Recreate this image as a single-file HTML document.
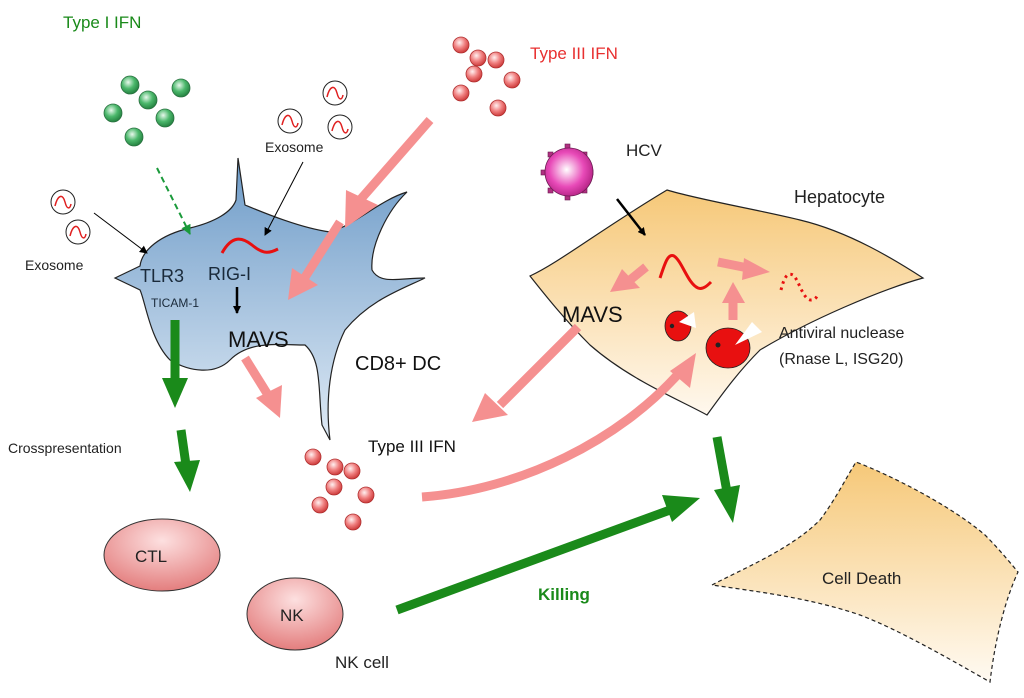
<!DOCTYPE html>
<html><head><meta charset="utf-8"><style>
html,body{margin:0;padding:0;background:#fff}
svg{display:block}
text{font-family:"Liberation Sans","DejaVu Sans",sans-serif}
</style></head><body>
<svg width="1024" height="698" viewBox="0 0 1024 698" xmlns="http://www.w3.org/2000/svg">
<defs>
<radialGradient id="gg" cx="0.4" cy="0.35" r="0.7"><stop offset="0" stop-color="#e8f8ec"/><stop offset="0.5" stop-color="#4cb86c"/><stop offset="1" stop-color="#1f7a3a"/></radialGradient>
<radialGradient id="rg" cx="0.4" cy="0.35" r="0.7"><stop offset="0" stop-color="#fff0f0"/><stop offset="0.5" stop-color="#f08080"/><stop offset="1" stop-color="#c83030"/></radialGradient>
<radialGradient id="pg" cx="0.45" cy="0.45" r="0.6"><stop offset="0" stop-color="#fff"/><stop offset="0.6" stop-color="#e84ab8"/><stop offset="1" stop-color="#b02080"/></radialGradient>
<linearGradient id="dc" x1="0" y1="0" x2="0" y2="1"><stop offset="0" stop-color="#6d9bc8"/><stop offset="1" stop-color="#dfeaf5"/></linearGradient>
<linearGradient id="hep" x1="0" y1="0" x2="0" y2="1"><stop offset="0" stop-color="#f6c878"/><stop offset="1" stop-color="#fff8ee"/></linearGradient>
<linearGradient id="cd" x1="0" y1="0" x2="0" y2="1"><stop offset="0" stop-color="#f6c878"/><stop offset="1" stop-color="#fffaf2"/></linearGradient>
<radialGradient id="ov" cx="0.5" cy="0.3" r="0.8"><stop offset="0" stop-color="#fde0e0"/><stop offset="1" stop-color="#e07070"/></radialGradient>
<marker id="ab" markerWidth="8" markerHeight="8" refX="7" refY="4" orient="auto" markerUnits="userSpaceOnUse"><path d="M0,0 L8,4 L0,8z" fill="#000"/></marker>
<marker id="agd" markerWidth="10" markerHeight="10" refX="9" refY="5" orient="auto" markerUnits="userSpaceOnUse"><path d="M0,0 L10,5 L0,10z" fill="#1a9a3a"/></marker>
</defs>

<path d="M115,278 L140,266 C142,250 160,235 190,228 C215,222 232,212 236,200 L238,158 L245,205 C262,212 300,228 330,232 C355,225 380,200 407,192 C388,210 370,245 372,270 C380,285 400,278 425,278 C400,290 370,300 345,330 C330,360 325,400 330,440 L322,425 C318,390 322,360 305,345 C280,345 250,340 230,360 C215,375 190,372 170,360 C150,340 145,300 140,290 Z" fill="url(#dc)" stroke="#222" stroke-width="1.2"/>

<path d="M530,276 C560,262 600,230 667,190 C700,200 760,210 800,220 C850,232 895,260 923,278 C880,290 810,320 760,350 C740,370 725,390 707,415 C680,400 630,380 590,345 C565,320 545,295 530,276 Z" fill="url(#hep)" stroke="#222" stroke-width="1.2"/>

<path d="M712,585 C740,570 790,550 820,520 C835,500 845,480 856,462 C890,475 950,505 985,535 C1000,550 1012,565 1018,572 C1005,600 995,640 990,682 C960,665 900,630 860,615 C810,598 760,592 712,585 Z" fill="url(#cd)" stroke="#222" stroke-width="1.2" stroke-dasharray="4,3"/>

<g fill="url(#gg)" stroke="#2a7040" stroke-width="0.8">
<circle cx="130" cy="85" r="9"/><circle cx="181" cy="88" r="9"/><circle cx="148" cy="100" r="9"/>
<circle cx="113" cy="113" r="9"/><circle cx="165" cy="118" r="9"/><circle cx="134" cy="137" r="9"/>
</g>
<g fill="url(#rg)" stroke="#b03030" stroke-width="0.8">
<circle cx="461" cy="45" r="8"/><circle cx="478" cy="58" r="8"/><circle cx="496" cy="60" r="8"/>
<circle cx="461" cy="93" r="8"/><circle cx="512" cy="80" r="8"/><circle cx="498" cy="108" r="8"/><circle cx="474" cy="74" r="8"/>
<circle cx="313" cy="457" r="8"/><circle cx="335" cy="467" r="8"/><circle cx="352" cy="471" r="8"/>
<circle cx="366" cy="495" r="8"/><circle cx="320" cy="505" r="8"/><circle cx="353" cy="522" r="8"/><circle cx="334" cy="487" r="8"/>
</g>

<g fill="#fff" stroke="#222" stroke-width="1">
<circle cx="63" cy="202" r="12"/><circle cx="78" cy="232" r="12"/>
<circle cx="290" cy="121" r="12"/><circle cx="335" cy="93" r="12"/><circle cx="340" cy="127" r="12"/>
</g>
<g fill="none" stroke="#e02020" stroke-width="1.5">
<path d="M55,206 c3,-12 8,-12 10,-4 c2,8 5,7 6,2"/><path d="M70,236 c3,-12 8,-12 10,-4 c2,8 5,7 6,2"/>
<path d="M282,125 c3,-12 8,-12 10,-4 c2,8 5,7 6,2"/><path d="M327,97 c3,-12 8,-12 10,-4 c2,8 5,7 6,2"/><path d="M332,131 c3,-12 8,-12 10,-4 c2,8 5,7 6,2"/>
</g>

<g fill="#b03080" stroke="#6a1a50" stroke-width="0.6">
<rect x="565" y="144" width="5" height="5"/><rect x="565" y="195" width="5" height="5"/><rect x="541" y="170" width="5" height="5"/><rect x="588" y="170" width="5" height="5"/>
<rect x="548" y="152" width="5" height="5"/><rect x="582" y="152" width="5" height="5"/><rect x="548" y="188" width="5" height="5"/><rect x="582" y="188" width="5" height="5"/>
</g>
<circle cx="569" cy="172" r="24" fill="url(#pg)" stroke="#6a1a50" stroke-width="0.8"/>

<g stroke="#000" stroke-width="1" fill="none">
<line x1="94" y1="213" x2="147" y2="253" marker-end="url(#ab)"/>
<line x1="303" y1="162" x2="265" y2="235" marker-end="url(#ab)"/>
</g>
<line x1="617" y1="199" x2="645" y2="235" stroke="#000" stroke-width="2.5" marker-end="url(#ab)"/>
<line x1="237" y1="287" x2="237" y2="313" stroke="#000" stroke-width="2.5" marker-end="url(#ab)"/>
<line x1="157" y1="168" x2="190" y2="234" stroke="#1a9a3a" stroke-width="2" stroke-dasharray="6,4" marker-end="url(#agd)"/>

<path d="M222,253 c10,-18 20,-16 30,-8 c12,10 18,8 26,4" fill="none" stroke="#e81010" stroke-width="3"/>
<path d="M660,278 c5,-15 8,-25 14,-22 c8,5 14,28 24,32 c5,2 10,-3 13,-6" fill="none" stroke="#e81010" stroke-width="3"/>
<path d="M781,290 c3,-12 6,-18 12,-15 c6,5 10,25 18,25 c4,0 6,-3 7,-6" fill="none" stroke="#e81010" stroke-width="3" stroke-dasharray="2.5,4"/>

<!-- nucleases -->
<ellipse cx="678" cy="326" rx="13" ry="15" fill="#e81010" stroke="#222" stroke-width="0.8"/>
<polygon points="679,322 694,312 696,328" fill="#fff"/>
<circle cx="672" cy="326" r="2.2" fill="#222"/>
<ellipse cx="728" cy="348" rx="22" ry="20" fill="#e81010" stroke="#222" stroke-width="0.8"/>
<polygon points="735,345 752,322 762,332" fill="#fff"/>
<circle cx="718" cy="345" r="2.5" fill="#222"/>

<g stroke="#f59090" stroke-width="9" fill="none" stroke-linecap="butt">
<line x1="430" y1="120" x2="360" y2="200"/>
<line x1="340" y1="222" x2="302" y2="282"/>
<line x1="245" y1="358" x2="268" y2="395"/>
<line x1="578" y1="327" x2="500" y2="405"/>
<path d="M422,497 C520,490 620,440 680,372"/>
<line x1="733" y1="320" x2="733" y2="300"/>
<line x1="646" y1="267" x2="630" y2="280"/>
<line x1="718" y1="262" x2="748" y2="268"/>
</g>
<g fill="#f59090">
<polygon points="346,190 378,205 345,228"/>
<polygon points="288,300 292,268 318,285"/>
<polygon points="280,418 256,398 282,385"/>
<polygon points="472,422 485,393 508,415"/>
<polygon points="696,353 670,371 690,388"/>
<polygon points="733,282 722,303 745,303"/>
<polygon points="610,292 622,269 640,288"/>
<polygon points="770,272 744,258 742,280"/>
</g>

<g fill="#1a8a1a" stroke="#1a8a1a">
<line x1="175" y1="320" x2="175" y2="378" stroke-width="9"/>
<polygon points="162,378 188,378 175,408" stroke="none"/>
<line x1="181" y1="430" x2="186" y2="465" stroke-width="9"/>
<polygon points="174,462 200,460 190,492" stroke="none"/>
<line x1="397" y1="610" x2="670" y2="510" stroke-width="9"/>
<polygon points="662,495 700,498 672,522" stroke="none"/>
<line x1="717" y1="437" x2="727" y2="492" stroke-width="9"/>
<polygon points="714,490 740,485 733,523" stroke="none"/>
</g>

<ellipse cx="162" cy="555" rx="58" ry="36" fill="url(#ov)" stroke="#333" stroke-width="1"/>
<ellipse cx="295" cy="614" rx="48" ry="36" fill="url(#ov)" stroke="#333" stroke-width="1"/>

<text x="63" y="28" font-size="17" fill="#1a8a1a">Type I IFN</text>
<text x="530" y="59" font-size="17" fill="#e83030">Type III IFN</text>
<text x="265" y="152" font-size="14" fill="#222">Exosome</text>
<text x="25" y="270" font-size="14" fill="#222">Exosome</text>
<text x="140" y="282" font-size="18" fill="#1a2a3a">TLR3</text>
<text x="151" y="307" font-size="12" fill="#1a2a3a">TICAM-1</text>
<text x="208" y="280" font-size="18" fill="#1a2a3a">RIG-I</text>
<text x="228" y="347" font-size="22" fill="#111">MAVS</text>
<text x="355" y="370" font-size="20" fill="#111">CD8+ DC</text>
<text x="368" y="452" font-size="17" fill="#111">Type III IFN</text>
<text x="8" y="453" font-size="14" fill="#222">Crosspresentation</text>
<text x="135" y="562" font-size="17" fill="#222">CTL</text>
<text x="280" y="621" font-size="17" fill="#222">NK</text>
<text x="335" y="668" font-size="17" fill="#222">NK cell</text>
<text x="538" y="600" font-size="17" font-weight="bold" fill="#1a8a1a">Killing</text>
<text x="822" y="584" font-size="17" fill="#222">Cell Death</text>
<text x="626" y="156" font-size="17" fill="#222">HCV</text>
<text x="794" y="203" font-size="18" fill="#222">Hepatocyte</text>
<text x="562" y="322" font-size="22" fill="#111">MAVS</text>
<text x="779" y="338" font-size="16" fill="#222">Antiviral nuclease</text>
<text x="779" y="364" font-size="16" fill="#222">(Rnase L, ISG20)</text>
</svg>
</body></html>
